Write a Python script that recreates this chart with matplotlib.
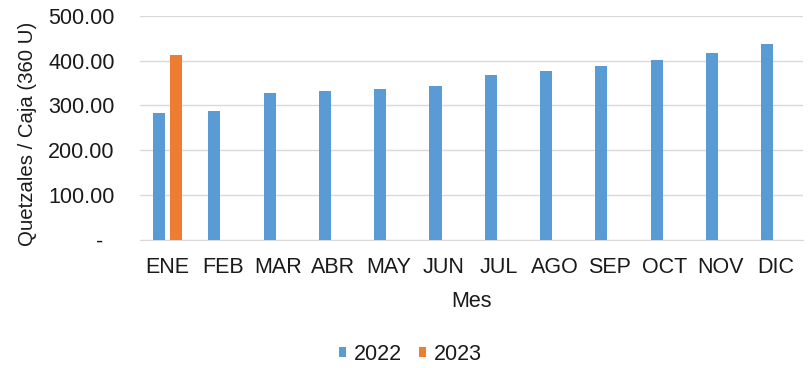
import matplotlib.pyplot as plt
import numpy as np
from matplotlib.ticker import FuncFormatter

plt.rcParams['font.family'] = ['Liberation Sans', 'DejaVu Sans']

# Monthly price per box
meses = ['ENE', 'FEB', 'MAR', 'ABR', 'MAY', 'JUN', 'JUL', 'AGO', 'SEP', 'OCT', 'NOV', 'DIC']
precio_2022 = [284, 288, 327, 333, 337, 344, 369, 378, 388, 402, 417, 438]
precio_2023 = [413]

azul = '#5B9BD5'
naranja = '#ED7D31'
texto = '#1A1A1A'
fs = 15.5

fig = plt.figure(figsize=(8.08, 3.68), dpi=100)
ax = fig.add_axes([0.173, 0.348, 0.821, 0.609])

x = np.arange(len(meses))
ancho = 0.22
ax.bar(x - 0.15, precio_2022, width=ancho, color=azul, label='2022', zorder=3)
ax.bar(x[:len(precio_2023)] + 0.15, precio_2023, width=ancho, color=naranja, label='2023', zorder=3)

ax.set_xlim(-0.5, len(meses) - 0.5)
ax.set_ylim(0, 500)
ax.set_yticks([0, 100, 200, 300, 400, 500])

def formato(v, pos):
    # accounting style: zero shown as a dash
    if v == 0:
        return '-  '
    return f'{v:.2f}'

ax.yaxis.set_major_formatter(FuncFormatter(formato))
ax.set_xticks(x)
ax.set_xticklabels(meses)

ax.grid(axis='y', color='#D9D9D9', linewidth=1, zorder=0)
for s in ['top', 'right', 'left']:
    ax.spines[s].set_visible(False)
ax.spines['bottom'].set_color('#D9D9D9')
ax.tick_params(axis='both', length=0, labelsize=fs, colors=texto)
ax.tick_params(axis='y', pad=18)
ax.tick_params(axis='x', pad=12)

ax.set_xlabel('Mes', fontsize=fs, color=texto, labelpad=10)
ax.set_ylabel('Quetzales / Caja (360 U)', fontsize=14.7, color=texto)
ax.yaxis.set_label_coords(-0.155, 0.473)

fig.legend(loc='center', bbox_to_anchor=(0.508, 0.038), ncol=2, frameon=False,
           fontsize=fs, handlelength=0.33, handleheight=0.33, handletextpad=0.37,
           columnspacing=0.8, labelcolor=texto)

fig.savefig('out.png', dpi=100)
